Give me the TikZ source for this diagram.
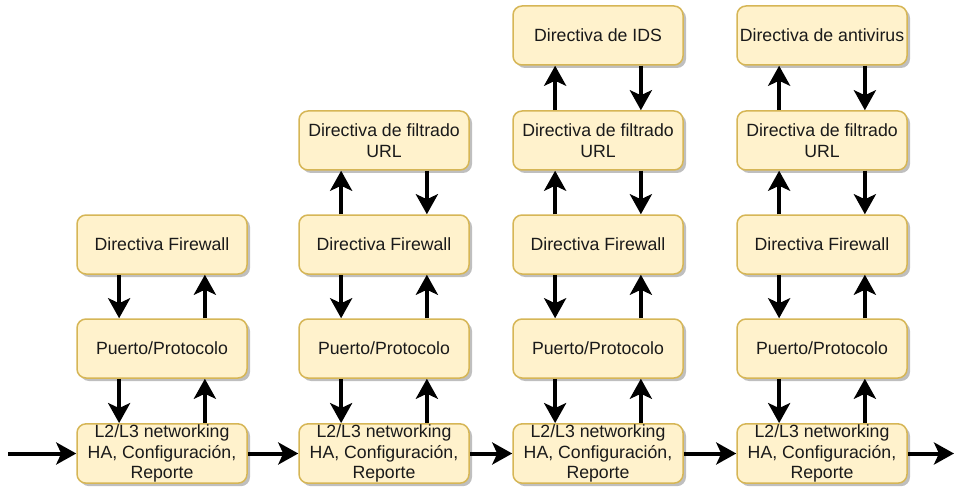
\documentclass[tikz,border=0pt]{standalone}
\usepackage{fontspec}
\setmainfont{Liberation Sans}
\usetikzlibrary{arrows.meta,calc,shadows}
\definecolor{boxfill}{HTML}{FFF2CC}
\definecolor{boxdraw}{HTML}{D6B656}
\definecolor{txt}{HTML}{1A1A1A}
\tikzset{
  boxnode/.style={draw=boxdraw, fill=boxfill, line width=1.5pt, rounded corners=9pt,
    minimum width=170pt, minimum height=59pt, inner sep=1pt, align=center,
    text=txt, font=\fontsize{17.7}{20.4}\selectfont,
    drop shadow={shadow xshift=3pt, shadow yshift=-3pt, opacity=0.25, fill=black}},
  arr/.style={line width=4pt, -{Stealth[length=20pt, width=22pt, inset=5pt]}}
}
\begin{document}
\begin{tikzpicture}[x=1pt,y=-1pt]
\useasboundingbox (0,0) rectangle (955,489);
% column 1
\node[boxnode] (c1fw) at (162,244.5) {Directiva Firewall};
\node[boxnode] (c1pp) at (162,348.5) {Puerto/Protocolo};
\node[boxnode] (c1l2) at (162,453.5) {L2/L3 networking\\HA, Configuración,\\Reporte};
% column 2
\node[boxnode] (c2url) at (384,140.5) {Directiva de filtrado\\URL};
\node[boxnode] (c2fw) at (384,244.5) {Directiva Firewall};
\node[boxnode] (c2pp) at (384,348.5) {Puerto/Protocolo};
\node[boxnode] (c2l2) at (384,453.5) {L2/L3 networking\\HA, Configuración,\\Reporte};
% column 3
\node[boxnode] (c3ids) at (598,35.5) {Directiva de IDS};
\node[boxnode] (c3url) at (598,140.5) {Directiva de filtrado\\URL};
\node[boxnode] (c3fw) at (598,244.5) {Directiva Firewall};
\node[boxnode] (c3pp) at (598,348.5) {Puerto/Protocolo};
\node[boxnode] (c3l2) at (598,453.5) {L2/L3 networking\\HA, Configuración,\\Reporte};
% column 4
\node[boxnode] (c4av) at (822,35.5) {Directiva de antivirus};
\node[boxnode] (c4url) at (822,140.5) {Directiva de filtrado\\URL};
\node[boxnode] (c4fw) at (822,244.5) {Directiva Firewall};
\node[boxnode] (c4pp) at (822,348.5) {Puerto/Protocolo};
\node[boxnode] (c4l2) at (822,453.5) {L2/L3 networking\\HA, Configuración,\\Reporte};
% vertical pairs: down on left, up on right
\foreach \u/\l in {c1fw/c1pp,c1pp/c1l2,c2fw/c2pp,c2pp/c2l2,c3fw/c3pp,c3pp/c3l2,c4fw/c4pp,c4pp/c4l2}{
  \draw[arr] ($(\u.south west)!.25!(\u.south east)$) -- ($(\l.north west)!.25!(\l.north east)$);
  \draw[arr] ($(\l.north west)!.75!(\l.north east)$) -- ($(\u.south west)!.75!(\u.south east)$);
}
% vertical pairs: up on left, down on right
\foreach \u/\l in {c2url/c2fw,c3url/c3fw,c3ids/c3url,c4url/c4fw,c4av/c4url}{
  \draw[arr] ($(\l.north west)!.25!(\l.north east)$) -- ($(\u.south west)!.25!(\u.south east)$);
  \draw[arr] ($(\u.south west)!.75!(\u.south east)$) -- ($(\l.north west)!.75!(\l.north east)$);
}
% horizontal flow
\coordinate (in) at (8,453.5);
\coordinate (out) at (954,453.5);
\draw[arr] (in) -- (c1l2.west);
\draw[arr] (c1l2.east) -- (c2l2.west);
\draw[arr] (c2l2.east) -- (c3l2.west);
\draw[arr] (c3l2.east) -- (c4l2.west);
\draw[arr] (c4l2.east) -- (out);
\end{tikzpicture}
\end{document}
